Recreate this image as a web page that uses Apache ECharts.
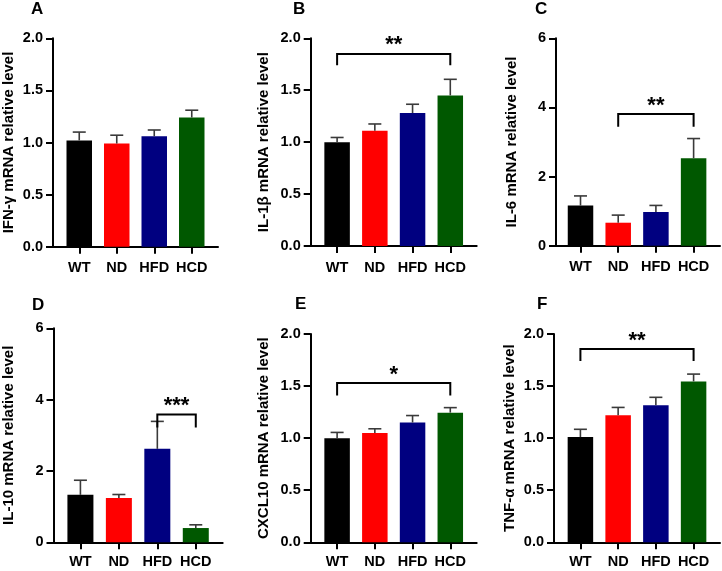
<!DOCTYPE html>
<html>
<head>
<meta charset="utf-8">
<script src="https://cdn.jsdelivr.net/npm/echarts@6/dist/echarts.min.js"></script>
<style>html,body{margin:0;padding:0;background:#fff;}#c{width:722px;height:571px;}</style>
</head>
<body>
<div id="c"></div>
<script>
// ---- data ----
const categories = ['WT', 'ND', 'HFD', 'HCD'];
const barColors = ['#000000', '#ff0000', '#000080', '#005800'];

const panelLetters = ['A', 'B', 'C', 'D', 'E', 'F'];
const yNames = ['IFN-γ mRNA relative level', 'IL-1β mRNA relative level', 'IL-6 mRNA relative level',
                'IL-10 mRNA relative level', 'CXCL10 mRNA relative level', 'TNF-α mRNA relative level'];
const yMax = [2, 2, 6, 6, 2, 2];
const yStep = [0.5, 0.5, 2, 2, 0.5, 0.5];

const ifngMean   = [1.02, 0.99, 1.06, 1.24];
const ifngErr    = [0.08, 0.08, 0.06, 0.07];
const il1bMean   = [1.00, 1.11, 1.28, 1.45];
const il1bErr    = [0.045, 0.065, 0.085, 0.155];
const il6Mean    = [1.16, 0.665, 0.975, 2.53];
const il6Err     = [0.28, 0.22, 0.19, 0.57];
const il10Mean   = [1.33, 1.24, 2.62, 0.40];
const il10Err    = [0.41, 0.10, 0.77, 0.09];
const cxcl10Mean = [1.00, 1.05, 1.15, 1.245];
const cxcl10Err  = [0.055, 0.04, 0.067, 0.048];
const tnfaMean   = [1.01, 1.22, 1.315, 1.545];
const tnfaErr    = [0.075, 0.075, 0.077, 0.07];

// significance brackets: [panel, fromIndex, toIndex, barHeight, legBottom]
const sigB = [1, 0, 3, 1.85, 1.74];
const sigC = [2, 1, 3, 3.81, 3.44];
const sigD = [3, 2, 3, 3.58, 3.22];
const sigE = [4, 0, 3, 1.53, 1.41];
const sigF = [5, 0, 3, 1.855, 1.74];
const sigLabels = ['**', '**', '***', '*', '**'];

const means = [ifngMean, il1bMean, il6Mean, il10Mean, cxcl10Mean, tnfaMean];
const errs  = [ifngErr, il1bErr, il6Err, il10Err, cxcl10Err, tnfaErr];
const sigs  = [sigB, sigC, sigD, sigE, sigF];

// ---- layout (pixels) ----
const grids = [
  {left: 52.5, top: 38.3, width: 165.5, height: 208.4, xmin: -0.7, lm: 14},
  {left: 310.7, top: 38.3, width: 166, height: 207.7, xmin: -0.7, lm: 14},
  {left: 556, top: 38.3, width: 164, height: 207.4, xmin: -0.65, lm: 14},
  {left: 52.7, top: 328.3, width: 170, height: 214, xmin: -0.7, lm: 12},
  {left: 310.7, top: 334, width: 166, height: 208.3, xmin: -0.7, lm: 12},
  {left: 554, top: 334, width: 166, height: 208.3, xmin: -0.7, lm: 12}
];
const titlePos = [[31, 1], [293, 1], [535, 1], [32, 297], [295, 296], [537, 296]];
const nameGaps = [37, 39.5, 37, 37.5, 39, 37];

const FONT = "'Liberation Sans', Arial, sans-serif";
const idx = categories.map((_, i) => i);

const option = {
  animation: false,
  backgroundColor: '#ffffff',
  title: panelLetters.map((t, p) => ({
    text: t, left: titlePos[p][0], top: titlePos[p][1], padding: 0,
    textStyle: {fontFamily: FONT, fontWeight: 'bold', fontSize: 17, color: '#000'}
  })),
  grid: grids.map(g => ({left: g.left, top: g.top, width: g.width, height: g.height, containLabel: false})),
  xAxis: grids.map((g, p) => ({
    type: 'value', gridIndex: p, min: g.xmin, max: 3.7,
    splitLine: {show: false},
    axisLine: {show: true, onZero: false, lineStyle: {color: '#000', width: 2}},
    axisTick: {show: true, customValues: idx, length: 7, lineStyle: {color: '#000', width: 2}},
    axisLabel: {show: true, customValues: idx, margin: g.lm, formatter: v => categories[v],
      fontFamily: FONT, fontWeight: 'bold', fontSize: 14.5, color: '#000'}
  })),
  yAxis: grids.map((g, p) => ({
    type: 'value', gridIndex: p, min: 0, max: yMax[p], interval: yStep[p],
    name: yNames[p], nameLocation: 'middle', nameRotate: 90, nameGap: nameGaps[p],
    nameTextStyle: {fontFamily: FONT, fontWeight: 'bold', fontSize: 15, color: '#000'},
    splitLine: {show: false},
    axisLine: {show: true, onZero: false, lineStyle: {color: '#000', width: 2}},
    axisTick: {show: true, length: 7, lineStyle: {color: '#000', width: 2}},
    axisLabel: {margin: 10, fontFamily: FONT, fontWeight: 'bold', fontSize: 14.5, color: '#000',
      formatter: v => yStep[p] < 1 ? v.toFixed(1) : String(v)}
  })),
  series: []
};

means.forEach((m, p) => {
  option.series.push({
    type: 'bar', xAxisIndex: p, yAxisIndex: p,
    barWidth: p === 3 ? 26 : 25.5,
    data: m.map((v, i) => ({value: [i, v], itemStyle: {color: barColors[i]}})),
    z: 2
  });
  option.series.push({
    type: 'custom', xAxisIndex: p, yAxisIndex: p, z: 3,
    data: m.map((v, i) => [i, v, errs[p][i]]),
    renderItem: (params, api) => {
      const x = api.value(0), v = api.value(1), e = api.value(2);
      const base = api.coord([x, v]);
      const top = api.coord([x, v + e]);
      const style = {stroke: '#3a3a3a', lineWidth: 1.6, fill: null};
      return {type: 'group', children: [
        {type: 'line', shape: {x1: base[0], y1: base[1], x2: top[0], y2: top[1]}, style},
        {type: 'line', shape: {x1: top[0] - 6.5, y1: top[1], x2: top[0] + 6.5, y2: top[1]}, style}
      ]};
    }
  });
});

sigs.forEach((s, k) => {
  const p = s[0];
  option.series.push({
    type: 'custom', xAxisIndex: p, yAxisIndex: p, z: 4,
    data: [[s[1], s[2], s[3], s[4]]],
    renderItem: (params, api) => {
      const a = api.coord([api.value(0), api.value(2)]);
      const b = api.coord([api.value(1), api.value(2)]);
      const aL = api.coord([api.value(0), api.value(3)]);
      const bL = api.coord([api.value(1), api.value(3)]);
      return {type: 'group', children: [
        {type: 'polyline', shape: {points: [[aL[0], aL[1]], [a[0], a[1]], [b[0], b[1]], [bL[0], bL[1]]]},
          style: {stroke: '#000', lineWidth: 2, fill: null}},
        {type: 'text', style: {text: sigLabels[k], x: (a[0] + b[0]) / 2, y: a[1] - 8.5,
          align: 'center', verticalAlign: 'middle', font: 'bold 22px ' + FONT, fill: '#000'}}
      ]};
    }
  });
});

const chart = echarts.init(document.getElementById('c'), null, {renderer: 'canvas'});
chart.setOption(option);
</script>
</body>
</html>
